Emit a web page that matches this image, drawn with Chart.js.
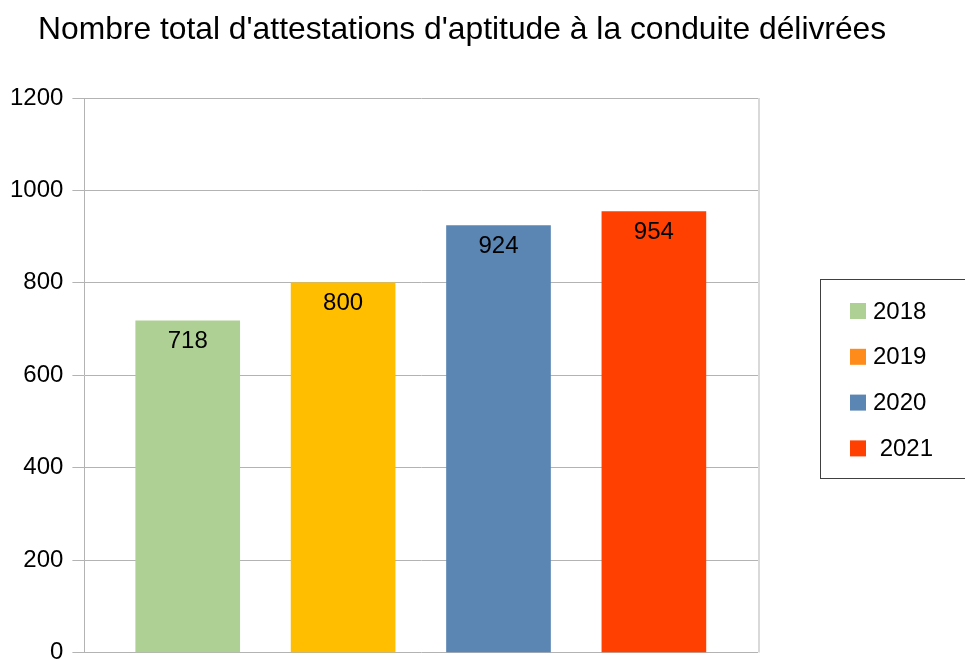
<!DOCTYPE html>
<html>
<head>
<meta charset="utf-8">
<script src="https://cdn.jsdelivr.net/npm/chart.js@4"></script>
<style>
  html, body { margin: 0; padding: 0; background: #fff; overflow: hidden; }
  /* canevas un peu plus haut que la fenêtre : le bas de l'axe est coupé comme dans l'original */
  #wrap { width: 965px; height: 676px; }
</style>
</head>
<body>
<div id="wrap"><canvas id="graphique"></canvas></div>
<script>
// Données
const titre = "Nombre total d'attestations d'aptitude à la conduite délivrées";
const annees = ['2018', '2019', '2020', '2021'];
const attestations = [718, 800, 924, 954];
const couleursBarres = ['#afd095', '#ffbf00', '#5b85b3', '#ff4000'];
const libellesLegende = ['2018', '2019', '2020', ' 2021'];
const couleursLegende = ['#afd095', '#ff8c1a', '#5b85b3', '#ff4000'];

const police = "'Liberation Sans', Arial, sans-serif";

// titre, bord droit, étiquettes des barres et légende encadrée
const decor = {
    id: 'decor',
    afterDraw(chart) {
        const ctx = chart.ctx;
        const area = chart.chartArea;
        ctx.save();

        ctx.fillStyle = '#000';
        ctx.font = '31.8px ' + police;
        ctx.textAlign = 'left';
        ctx.textBaseline = 'alphabetic';
        ctx.fillText(titre, 38, 39);

        ctx.strokeStyle = '#d9d9d9';
        ctx.lineWidth = 2;
        ctx.beginPath();
        ctx.moveTo(area.right + 1, area.top);
        ctx.lineTo(area.right + 1, area.bottom);
        ctx.stroke();

        // valeurs dans les barres
        ctx.font = '24px ' + police;
        ctx.textAlign = 'center';
        ctx.textBaseline = 'middle';
        chart.getDatasetMeta(0).data.forEach(function(bar, i) {
            ctx.fillText(String(attestations[i]), bar.x, bar.y + 21);
        });

        // légende
        ctx.strokeStyle = '#404040';
        ctx.lineWidth = 1;
        ctx.strokeRect(820.5, 279.5, 160, 199);
        ctx.textAlign = 'left';
        libellesLegende.forEach(function(lib, i) {
            const y = 311 + i * 45.8;
            ctx.fillStyle = couleursLegende[i];
            ctx.fillRect(850, y - 8, 16, 16);
            ctx.fillStyle = '#000';
            ctx.fillText(lib, 873, y + 1);
        });
        ctx.restore();
    }
};

new Chart(document.getElementById('graphique'), {
    type: 'bar',
    data: {
        datasets: [{
            label: 'Attestations',
            data: attestations.map((v, i) => ({ x: i, y: v })),
            backgroundColor: couleursBarres,
            barThickness: 104
        }]
    },
    options: {
        responsive: true,
        maintainAspectRatio: false,
        animation: false,
        layout: { padding: { left: 1, right: 207, top: 98, bottom: 7 } },
        plugins: {
            legend: { display: false },
            title: { display: false },
            tooltip: { enabled: false }
        },
        scales: {
            x: {
                type: 'linear',
                display: false,
                offset: false,
                min: -0.665,
                max: 3.67
            },
            y: {
                min: 0,
                max: 1200,
                ticks: {
                    stepSize: 200,
                    color: '#000',
                    padding: 9,
                    font: { family: police, size: 24 },
                    callback: function(v) { return String(v); }
                },
                grid: { color: '#b3b3b3', tickLength: 12 },
                border: { color: '#b3b3b3' }
            }
        }
    },
    plugins: [decor]
});
</script>
</body>
</html>
